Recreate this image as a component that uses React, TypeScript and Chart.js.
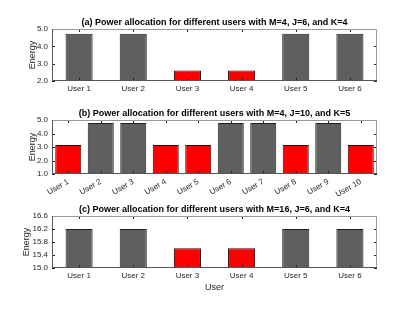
import React, { useEffect, useRef } from "react";
import { Chart, registerables } from "chart.js";

Chart.register(...registerables);

// ---- data ----
const usersA = ["User 1", "User 2", "User 3", "User 4", "User 5", "User 6"];
const energyA = [4.72, 4.72, 2.6, 2.6, 4.72, 4.72];
const titleA = "(a) Power allocation for different users with M=4, J=6, and K=4";
const yTicksA = [2.0, 3.0, 4.0, 5.0];

const usersB = ["User 1", "User 2", "User 3", "User 4", "User 5", "User 6", "User 7", "User 8", "User 9", "User 10"];
const energyB = [3.15, 4.78, 4.78, 3.15, 3.15, 4.78, 4.78, 3.15, 4.78, 3.15];
const titleB = "(b) Power allocation for different users with M=4, J=10, and K=5";
const yTicksB = [1.0, 2.0, 3.0, 4.0, 5.0];

const usersC = ["User 1", "User 2", "User 3", "User 4", "User 5", "User 6"];
const energyC = [16.2, 16.2, 15.61, 15.61, 16.2, 16.2];
const titleC = "(c) Power allocation for different users with M=16, J=6, and K=4";
const yTicksC = [15.0, 15.4, 15.8, 16.2, 16.6];

const yLabel = "Energy";
const xLabel = "User";

const FONT = "'Liberation Sans', Arial, Helvetica, sans-serif";
const GRAY = "#5f5f5f";
const RED = "#ff0000";

type PanelCfg = {
  labels: string[];
  values: number[];
  yTicks: number[];
  title: string;
  height: number;
  top: number;
  bottom: number;
  barPct: number;
  rotate: number;
  yLabelX: number;
  xLabel?: string;
};

const boxPlugin = {
  id: "matlabBox",
  afterDatasetsDraw(chart: any, _args: any, opts: any) {
    const { ctx, chartArea: a, scales } = chart;
    const tl = 3;
    ctx.save();
    // inward ticks
    ctx.strokeStyle = "#262626";
    ctx.lineWidth = 1;
    ctx.beginPath();
    const x = scales.x;
    for (let i = 0; i < chart.data.labels.length; i++) {
      const px = Math.round(x.getPixelForValue(i)) + 0.5;
      ctx.moveTo(px, a.bottom);
      ctx.lineTo(px, a.bottom - tl);
      ctx.moveTo(px, a.top);
      ctx.lineTo(px, a.top + tl);
    }
    const y = scales.y;
    for (const t of opts.yTicks as number[]) {
      const py = Math.round(y.getPixelForValue(t)) + 0.5;
      ctx.moveTo(a.left, py);
      ctx.lineTo(a.left + tl, py);
      ctx.moveTo(a.right, py);
      ctx.lineTo(a.right - tl, py);
    }
    ctx.stroke();
    // box
    ctx.strokeStyle = "#9a9a9a";
    ctx.beginPath();
    ctx.moveTo(a.left, a.top + 0.5);
    ctx.lineTo(a.right, a.top + 0.5);
    ctx.moveTo(a.right - 0.5, a.top);
    ctx.lineTo(a.right - 0.5, a.bottom);
    ctx.stroke();
    ctx.strokeStyle = "#555555";
    ctx.beginPath();
    ctx.moveTo(a.left + 0.5, a.top);
    ctx.lineTo(a.left + 0.5, a.bottom);
    ctx.moveTo(a.left, a.bottom - 0.5);
    ctx.lineTo(a.right, a.bottom - 0.5);
    ctx.stroke();
    // title
    ctx.fillStyle = "#000";
    ctx.font = `bold 9px ${FONT}`;
    ctx.textAlign = "center";
    ctx.textBaseline = "bottom";
    ctx.fillText(opts.title, (a.left + a.right) / 2, a.top - 2);
    // y label
    ctx.fillStyle = "#262626";
    ctx.font = `9px ${FONT}`;
    ctx.save();
    ctx.translate(opts.yLabelX, (a.top + a.bottom) / 2);
    ctx.rotate(-Math.PI / 2);
    ctx.textBaseline = "middle";
    ctx.fillText(yLabel, 0, 0);
    ctx.restore();
    if (opts.xLabel) {
      ctx.textBaseline = "top";
      ctx.fillText(opts.xLabel, (a.left + a.right) / 2, a.bottom + 15);
    }
    ctx.restore();
  },
};

function Panel({ cfg }: { cfg: PanelCfg }) {
  const ref = useRef<HTMLCanvasElement | null>(null);
  useEffect(() => {
    if (!ref.current) return;
    const maxV = Math.max(...cfg.values);
    const chart = new Chart(ref.current, {
      type: "bar",
      data: {
        labels: cfg.labels,
        datasets: [
          {
            data: cfg.values,
            backgroundColor: cfg.values.map((v) => (v < maxV ? RED : GRAY)),
            borderColor: cfg.values.map((v) => (v < maxV ? "#300000" : "#202020")),
            borderWidth: 1,
            barPercentage: cfg.barPct,
            categoryPercentage: 1,
          },
        ],
      },
      options: {
        responsive: false,
        animation: false,
        devicePixelRatio: 1,
        layout: { padding: { left: 0, right: 415 - 377, top: cfg.top, bottom: 0 } },
        plugins: {
          legend: { display: false },
          tooltip: { enabled: false },
          title: { display: false },
          matlabBox: { title: cfg.title, yTicks: cfg.yTicks, yLabelX: cfg.yLabelX, xLabel: cfg.xLabel },
        } as any,
        scales: {
          x: {
            grid: { display: false, drawTicks: false },
            border: { display: false },
            ticks: {
              autoSkip: false,
              minRotation: cfg.rotate,
              maxRotation: cfg.rotate,
              padding: 3,
              color: "#262626",
              font: { family: FONT, size: 8 },
            },
            afterFit: (s: any) => {
              s.height = cfg.height - cfg.bottom;
            },
          },
          y: {
            min: cfg.yTicks[0],
            max: cfg.yTicks[cfg.yTicks.length - 1],
            grid: { display: false, drawTicks: false },
            border: { display: false },
            afterBuildTicks: (s: any) => {
              s.ticks = cfg.yTicks.map((v) => ({ value: v }));
            },
            ticks: {
              padding: 4,
              color: "#262626",
              font: { family: FONT, size: 8 },
              callback: (v: any) => Number(v).toFixed(1),
            },
            afterFit: (s: any) => {
              s.width = 52;
            },
          },
        },
      },
      plugins: [boxPlugin],
    });
    return () => chart.destroy();
  }, [cfg]);
  return <canvas ref={ref} width={415} height={cfg.height} style={{ display: "block" }} />;
}

const panels: PanelCfg[] = [
  { labels: usersA, values: energyA, yTicks: yTicksA, title: titleA, height: 100, top: 29, bottom: 81, barPct: 0.5, rotate: 0, yLabelX: 33 },
  { labels: usersB, values: energyB, yTicks: yTicksB, title: titleB, height: 100, top: 20, bottom: 74, barPct: 0.8, rotate: 30, yLabelX: 33 },
  { labels: usersC, values: energyC, yTicks: yTicksC, title: titleC, height: 112, top: 16, bottom: 68, barPct: 0.5, rotate: 0, yLabelX: 27, xLabel: xLabel },
];

export default function App() {
  return (
    <div style={{ position: "fixed", left: 0, top: 0, width: 415, height: 312, background: "#fff" }}>
      {panels.map((p, i) => (
        <Panel key={i} cfg={p} />
      ))}
    </div>
  );
}
